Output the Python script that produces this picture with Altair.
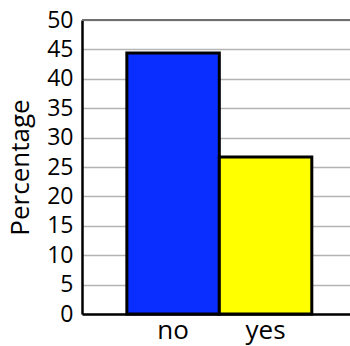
import altair as alt
import pandas as pd

categories = ["no", "yes"]
values = [44.4, 26.7]
colors = ["#0a2eff", "#ffff00"]
y_ticks = [0, 5, 10, 15, 20, 25, 30, 35, 40, 45, 50]

df = pd.DataFrame({"answer": categories, "pct": values, "color": colors})

FONT = "Open Sans"
yscale = alt.Scale(domain=[0, 50], nice=False)
yaxis = alt.Axis(title="Percentage", values=y_ticks, labelOverlap=False,
                 titleFont=FONT, titleFontSize=26, titleFontWeight="normal",
                 titleColor="black", titlePadding=13,
                 labelFont=FONT, labelFontSize=23, labelColor="black",
                 tickSize=0, labelPadding=9,
                 grid=True, gridColor="#b4b4b4", gridWidth=1.5,
                 domainColor="black", domainWidth=2.5)

bars = alt.Chart(df).mark_bar(stroke="black", strokeWidth=3).encode(
    x=alt.X("answer:N", sort=categories,
            scale=alt.Scale(paddingInner=0, paddingOuter=0.449, align=0.54),
            axis=alt.Axis(title=None, labelAngle=0, labelFont=FONT, labelFontSize=26,
                          labelColor="black", tickSize=0, labelPadding=3,
                          domainColor="black", domainWidth=2.5)),
    y=alt.Y("pct:Q", scale=yscale, axis=yaxis, title="Percentage"),
    color=alt.Color("color:N", scale=None),
)

top = alt.Chart(pd.DataFrame({"y": [50]})).mark_rule(color="#707070", strokeWidth=2).encode(
    y=alt.Y("y:Q", scale=yscale, axis=yaxis, title="Percentage")
)

chart = alt.layer(bars, top).properties(
    width=268, height=294,
    autosize=alt.AutoSizeParams(type="none"),
    padding={"left": 82, "top": 20, "right": 0, "bottom": 32},
).configure_view(stroke=None)

chart.save("out.html", embed_options={"renderer": "svg", "actions": False})
